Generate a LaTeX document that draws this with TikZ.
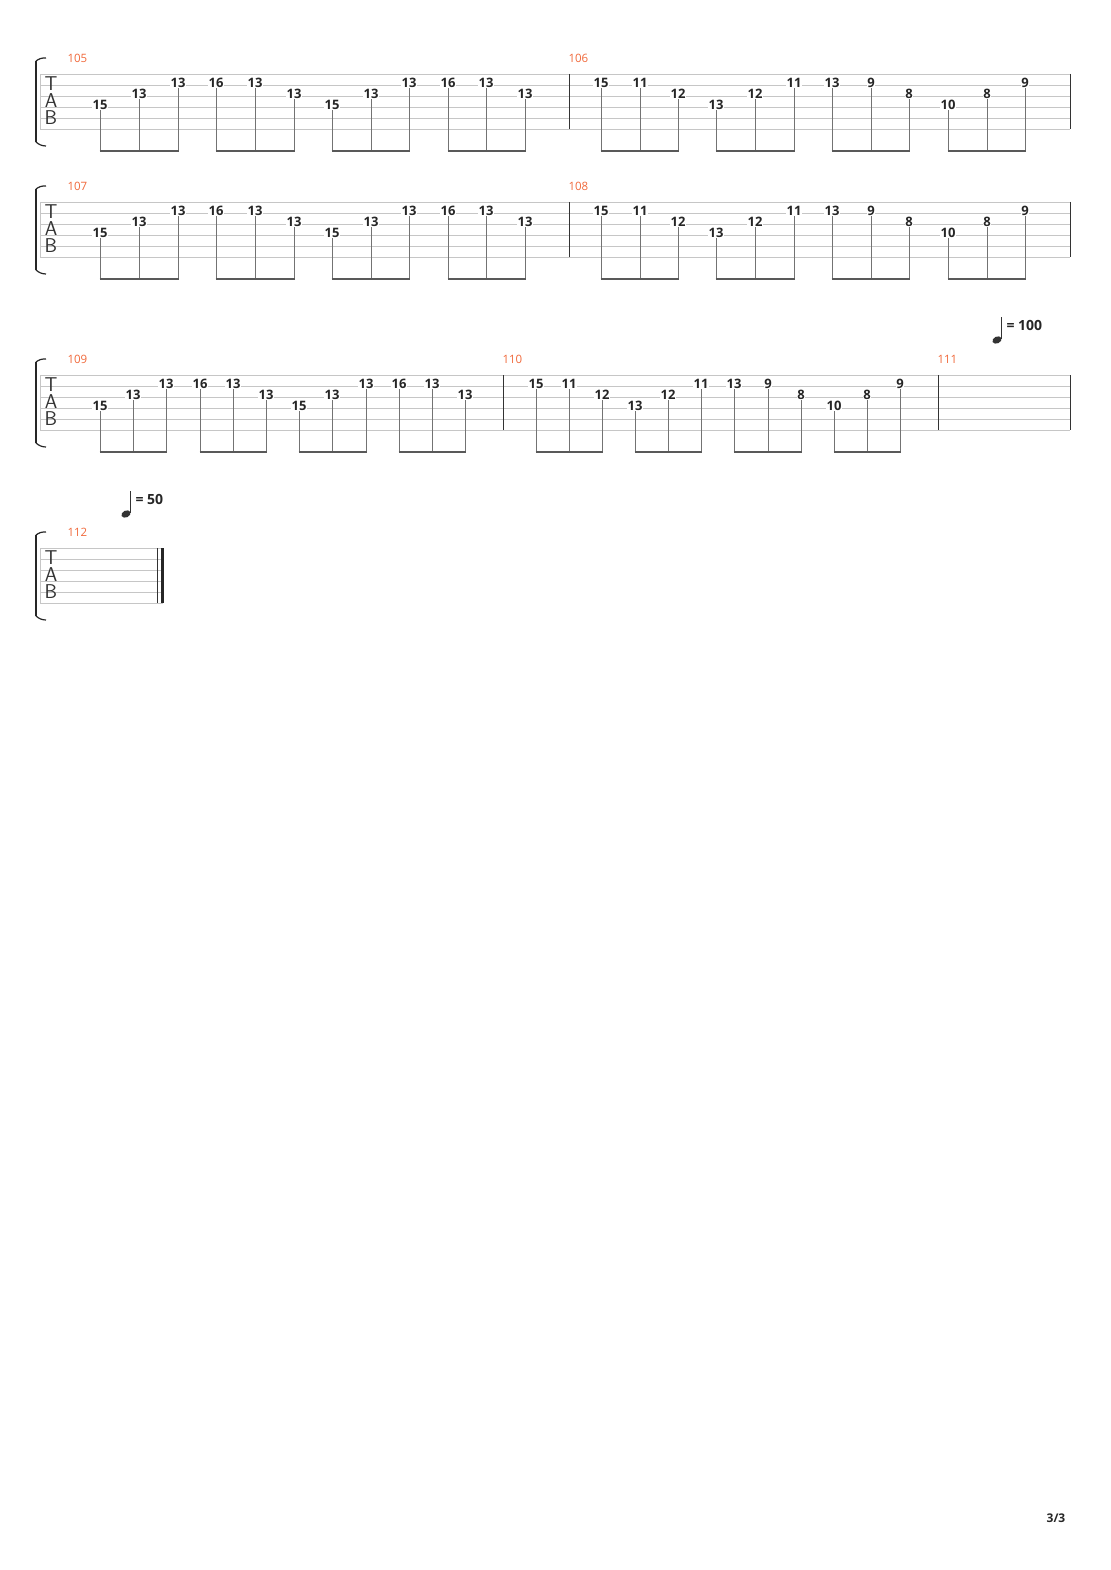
\documentclass[tikz,border=0pt]{standalone}
\usepackage{fontspec}
\setmainfont{Open Sans}
\usepackage{tikz}

\definecolor{mnumcol}{HTML}{F0683A}
\tikzset{
  staffline/.style={gray!45, line width=0.8pt},
  fret/.style={font=\bfseries\fontsize{13}{13}\selectfont, fill=white, inner sep=0.4pt, text=black!85},
  mnum/.style={font=\fontsize{11.5}{11.5}\selectfont, text=mnumcol, anchor=west},
  stemline/.style={black!55, line width=0.7pt},
  beamline/.style={black!65, line width=2.6pt},
  barline/.style={black!80, line width=0.9pt},
  tabletter/.style={font=\sffamily\fontsize{20}{20}\selectfont, inner sep=0pt, text height=13pt, text depth=0pt, text=black!80},
}
% one staff: #1 = top line y, #2 = right end
\newcommand{\tabstaff}[2]{%
  \foreach \k in {0,...,5} \draw[staffline] (40,#1+11*\k) -- (#2,#1+11*\k);
  \draw[staffline] (40,#1) -- (40,#1+55);
  \draw[black!85, line width=2.4pt] (36,#1-13) -- (36,#1+68);
  \draw[black!85, line width=1.2pt] (36,#1-13) to[bend left=20] (46,#1-16);
  \draw[black!85, line width=1.2pt] (36,#1+68) to[bend right=20] (46,#1+72);
  \node[tabletter] at (51,#1+10) {T};
  \node[tabletter] at (51,#1+27) {A};
  \node[tabletter] at (51,#1+44) {B};
}
% notes: x/string/fret, string 0..2
\newcommand{\tabnotes}[3]{%
  \foreach \x/\s/\f [count=\i] in {#3} {
    \node[fret] (#1n\i) at (\x,#2+9+11*\s) {\f};
    \draw[stemline] (#1n\i.south) -- (\x,#2+77);
  }
}
\newcommand{\tabbeams}[2]{%
  \foreach \a/\b in {#2} \draw[beamline] (\a-0.5,#1+77) -- (\b+0.5,#1+77);
}
\newcommand{\tempomark}[3]{%
  \fill[black!80, rotate around={25:(#1,#2)}] (#1,#2) ellipse (4.8pt and 3.4pt);
  \draw[black!80, line width=0.8pt] (#1+4.2,#2-1) -- (#1+4.2,#2-23);
  \node[font=\bfseries\fontsize{14}{14}\selectfont, anchor=west, text=black!85] at (#1+6,#2-15) {= #3};
}

\begin{document}
\begin{tikzpicture}[x=1pt,y=-1pt]
\useasboundingbox (0,0) rectangle (1110,1570);

% systems 1 and 2
\foreach \y/\ma/\mb/\nm in {74/105/106/a, 202/107/108/b} {
  \tabstaff{\y}{1070}
  \draw[barline] (569,\y) -- (569,\y+55);
  \draw[barline] (1070,\y) -- (1070,\y+55);
  \node[mnum] at (64,\y-16) {\ma};
  \node[mnum] at (565,\y-16) {\mb};
  \tabnotes{\nm}{\y}{100/2/15,139/1/13,178/0/13,216/0/16,255/0/13,294/1/13,332/2/15,371/1/13,409/0/13,448/0/16,486/0/13,525/1/13,
    601/0/15,640/0/11,678/1/12,716/2/13,755/1/12,794/0/11,832/0/13,871/0/9,909/1/8,948/2/10,987/1/8,1025/0/9}
  \tabbeams{\y}{100/178,216/294,332/409,448/525,601/678,716/794,832/909,948/1025}
}

% system 3
\tempomark{997}{340}{100}
\tabstaff{375}{1070}
\draw[barline] (503,375) -- (503,430);
\draw[barline] (938,375) -- (938,430);
\draw[barline] (1070,375) -- (1070,430);
\node[mnum] at (64,359) {109};
\node[mnum] at (499,359) {110};
\node[mnum] at (934,359) {111};
\tabnotes{c}{375}{100/2/15,133/1/13,166/0/13,200/0/16,233/0/13,266/1/13,299/2/15,332/1/13,366/0/13,399/0/16,432/0/13,465/1/13,
  536/0/15,569/0/11,602/1/12,635/2/13,668/1/12,701/0/11,734/0/13,768/0/9,801/1/8,834/2/10,867/1/8,900/0/9}
\tabbeams{375}{100/166,200/266,299/366,399/465,536/602,635/701,734/801,834/900}

% system 4
\tempomark{126}{514}{50}
\tabstaff{548}{163}
\draw[black!80, line width=0.7pt] (157,548) -- (157,603);
\draw[black!85, line width=3pt] (162.5,548) -- (162.5,603);
\node[mnum] at (64,532) {112};

\node[font=\bfseries\fontsize{12}{12}\selectfont, text=black!85] at (1056,1518) {3/3};
\end{tikzpicture}
\end{document}
